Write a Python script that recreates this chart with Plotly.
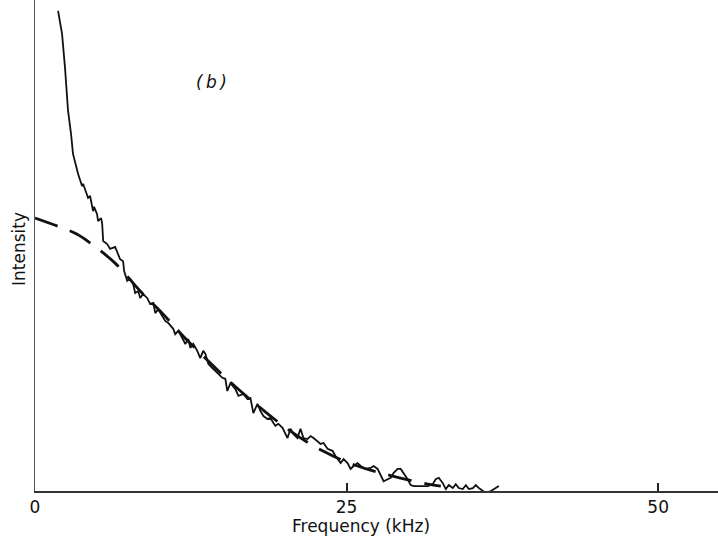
import plotly.graph_objects as go

# Measured spectrum (solid, noisy)
freq_meas = [1.85, 2.17, 2.41, 2.65, 2.89, 3.05, 3.46, 3.78, 3.86, 4.02, 4.26, 4.42, 4.50, 4.66, 4.74,
             4.98, 5.06, 5.31, 5.39, 5.47, 5.79, 6.03, 6.43, 6.67, 6.83, 7.07, 7.15, 7.40, 7.64, 7.88,
             8.04, 8.28, 8.44, 8.68, 9.00, 9.24, 9.49, 9.65, 9.89, 10.21, 10.45, 10.69, 11.09, 11.25,
             11.50, 11.82, 12.06, 12.30, 12.46, 12.70, 13.02, 13.26, 13.50, 13.67, 13.91, 14.31, 15.03,
             15.27, 15.43, 15.68, 16.08, 16.32, 16.72, 17.04, 17.28, 17.52, 17.85, 18.09, 18.33, 18.65,
             18.89, 19.13, 19.29, 19.53, 19.86, 20.26, 20.50, 20.74, 21.06, 21.30, 21.54, 21.86, 22.11,
             22.35, 22.91, 23.15, 23.47, 23.87, 24.12, 24.52, 24.76, 25.08, 25.32, 25.56, 25.88, 26.13,
             26.53, 26.93, 27.17, 27.49, 27.73, 27.97, 28.30, 28.54, 28.78, 29.10, 29.34, 29.58, 29.90,
             30.14, 30.39, 30.95, 31.51, 31.91, 32.15, 32.40, 32.72, 32.96, 33.20, 33.52, 33.76, 34.00,
             34.32, 34.57, 34.81, 35.13, 35.37, 35.61, 35.93, 36.17, 36.58, 36.98, 37.22]
int_meas = [98.0, 93.3, 86.3, 77.6, 72.9, 68.8, 64.7, 62.2, 62.7, 61.6, 59.8, 60.2, 59.2, 57.1, 58.0,
            56.5, 55.1, 55.7, 54.5, 51.0, 50.4, 49.4, 49.8, 48.4, 47.3, 46.9, 44.9, 42.9, 43.3, 42.2,
            40.4, 40.8, 39.4, 40.2, 39.4, 38.2, 38.4, 36.3, 37.1, 35.7, 34.7, 34.3, 33.1, 32.0,
            32.7, 31.2, 30.0, 31.0, 29.2, 30.0, 28.6, 27.1, 28.6, 28.0, 25.9, 24.9, 23.1,
            22.9, 20.4, 22.0, 20.8, 19.4, 19.8, 18.8, 19.0, 15.9, 17.8, 16.3, 15.3, 14.7,
            14.9, 13.9, 13.3, 13.7, 12.9, 10.8, 12.7, 11.6, 10.8, 12.7, 10.8, 10.6, 11.2,
            10.8, 9.6, 9.8, 8.6, 8.2, 7.1, 5.7, 6.5, 5.7, 4.5, 5.1, 5.7, 5.1,
            4.5, 4.7, 5.1, 4.5, 3.1, 2.0, 2.4, 2.7, 3.7, 4.5, 4.5, 3.7, 2.4,
            1.2, 1.0, 1.0, 1.0, 1.4, 2.4, 2.7, 1.6, 0.4, 1.2, 0.6, 1.4, 0.6,
            0.4, 1.2, 0.4, 0.6, 1.2, 0.6, 0.0, -0.4, 0.0, 0.6, 1.0]

# Fitted curve (dashed)
freq_fit = [0.0, 2.17, 3.38, 5.06, 6.51, 8.52, 10.21, 11.82, 14.07, 16.48, 20.50, 23.07, 25.64, 28.62, 31.51, 32.56]
int_fit = [55.7, 53.7, 52.4, 49.4, 46.3, 40.6, 36.3, 31.8, 26.1, 20.4, 12.2, 8.2, 5.3, 3.1, 1.4, 1.0]

x_ticks = [0, 25, 50]
x_tick_text = ["0", "25", "50"]

FONT = "DejaVu Sans"

fig = go.Figure()
fig.add_trace(go.Scatter(x=freq_fit, y=int_fit, mode="lines",
                         line=dict(color="#111", width=2.8, dash="24px,13px", shape="spline"),
                         showlegend=False, hoverinfo="skip"))
fig.add_trace(go.Scatter(x=freq_meas, y=int_meas, mode="lines",
                         line=dict(color="#111", width=1.8),
                         showlegend=False, hoverinfo="skip"))

fig.update_layout(
    width=718, height=538,
    margin=dict(l=35, r=0, t=0, b=47),
    paper_bgcolor="white", plot_bgcolor="white",
    font=dict(family=FONT, size=17, color="#111"),
    xaxis=dict(range=[0, 54.8], tickvals=x_ticks, ticktext=x_tick_text,
               ticks="inside", ticklen=8, tickwidth=1.5, tickcolor="#222",
               showline=True, linecolor="#333", linewidth=2,
               showgrid=False, zeroline=False,
               tickfont=dict(family=FONT, size=17, color="#111")),
    yaxis=dict(range=[0, 100.2], showticklabels=False, ticks="",
               showline=True, linecolor="#555", linewidth=1,
               showgrid=False, zeroline=False),
    annotations=[
        dict(text="Frequency (kHz)", xref="paper", yref="paper", x=0.477, y=-0.0713,
             xanchor="center", yanchor="middle", showarrow=False,
             font=dict(family=FONT, size=17, color="#111")),
        dict(text="Intensity", xref="paper", yref="paper", x=-0.0234, y=0.493,
             xanchor="center", yanchor="middle", textangle=-90, showarrow=False,
             font=dict(family=FONT, size=17, color="#111")),
        dict(text="<i>(\u2009b\u2009)</i>", xref="paper", yref="paper", x=0.258, y=0.833,
             xanchor="center", yanchor="middle", showarrow=False,
             font=dict(family=FONT, size=17, color="#111")),
    ],
)

fig.write_html("out.html", config={"displayModeBar": False},
               post_script="document.body.style.margin='0';")
